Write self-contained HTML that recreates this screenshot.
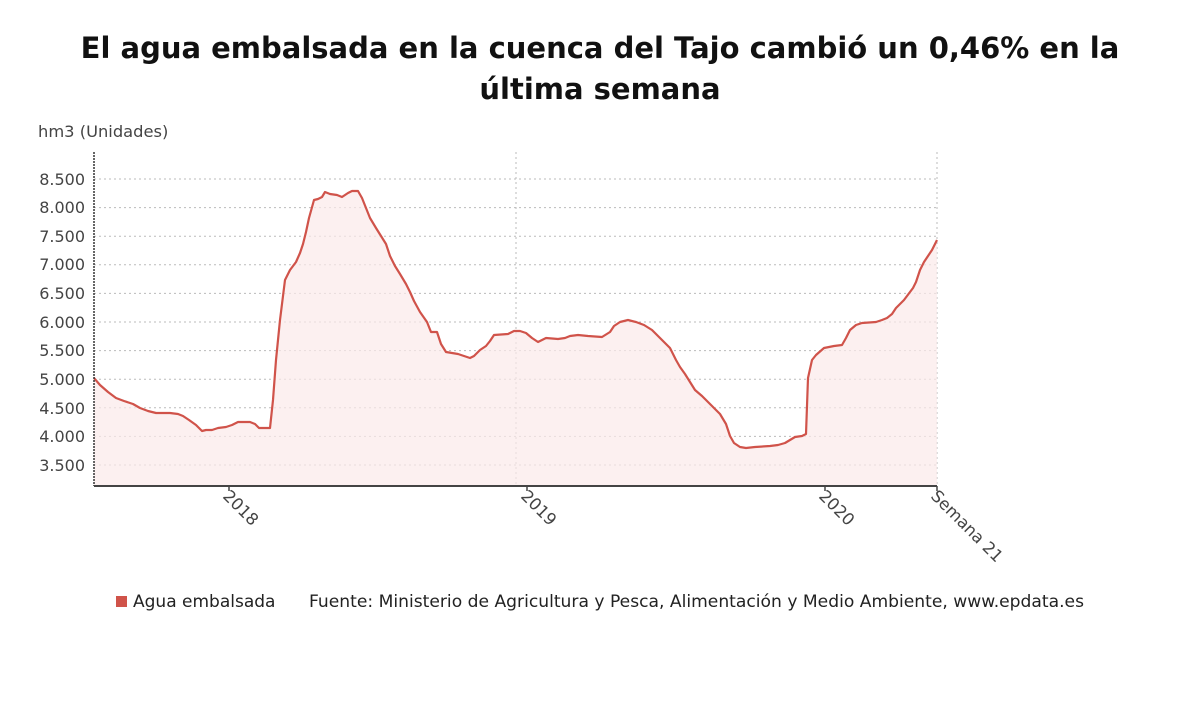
<!DOCTYPE html>
<html><head><meta charset="utf-8"><style>
body{margin:0;background:#fff;width:1200px;height:704px;overflow:hidden;font-family:"Liberation Sans","DejaVu Sans",sans-serif;}
</style></head><body>
<svg width="1200" height="704" xmlns="http://www.w3.org/2000/svg" font-family="'DejaVu Sans','Liberation Sans',sans-serif">
<text x="600" y="58" text-anchor="middle" font-size="29" font-weight="bold" fill="#111">El agua embalsada en la cuenca del Tajo cambió un 0,46% en la</text>
<text x="600" y="99" text-anchor="middle" font-size="29" font-weight="bold" fill="#111">última semana</text>
<text x="38" y="137" font-size="16.3" fill="#444">hm3 (Unidades)</text>
<g stroke="#bbb" stroke-dasharray="2,3" stroke-width="1">
<line x1="94" x2="937" y1="179" y2="179"/><line x1="94" x2="937" y1="207.6" y2="207.6"/><line x1="94" x2="937" y1="236.2" y2="236.2"/><line x1="94" x2="937" y1="264.8" y2="264.8"/><line x1="94" x2="937" y1="293.4" y2="293.4"/><line x1="94" x2="937" y1="322" y2="322"/><line x1="94" x2="937" y1="350.6" y2="350.6"/><line x1="94" x2="937" y1="379.2" y2="379.2"/><line x1="94" x2="937" y1="407.8" y2="407.8"/><line x1="94" x2="937" y1="436.4" y2="436.4"/><line x1="94" x2="937" y1="465" y2="465"/>
<line x1="516" x2="516" y1="152" y2="486"/><line x1="937" x2="937" y1="152" y2="486"/>
</g>
<g font-size="16" fill="#444" text-anchor="end">
<text x="85" y="185">8.500</text><text x="85" y="213">8.000</text><text x="85" y="242">7.500</text><text x="85" y="270">7.000</text><text x="85" y="299">6.500</text><text x="85" y="328">6.000</text><text x="85" y="356">5.500</text><text x="85" y="385">5.000</text><text x="85" y="414">4.500</text><text x="85" y="442">4.000</text><text x="85" y="471">3.500</text>
</g>
<polygon fill="#fbeaea" opacity="0.7" points="94,486 94,378 100,385 108,392 116,398 124,401 133,404 140,408 148,411 156,413 170,413 178,414 183,416 189,420 196,425 202,431 206,430 212,430 218,428 226,427 232,425 238,422 250,422 255,424 259,428 270,428 273,400 276,360 280,320 285,280 290,270 296,262 300,253 303,244 306,232 309,218 314,200 318,199 322,197 325,192 330,194 337,195 342,197 348,193 352,191 358,191 362,198 366,208 370,218 376,228 381,236 386,244 390,256 395,266 400,274 406,284 410,292 414,301 420,312 427,322 431,332 437,332 441,344 446,352 458,354 464,356 470,358 474,356 480,350 486,346 490,341 494,335 508,334 514,331 520,331 526,333 532,338 538,342 546,338 558,339 565,338 570,336 578,335 588,336 602,337 610,332 614,326 620,322 628,320 636,322 644,325 652,330 658,336 664,342 670,348 676,360 680,367 685,374 690,382 695,390 702,396 708,402 714,408 720,414 726,424 730,436 734,443 740,447 746,448 755,447 770,446 778,445 785,443 790,440 795,437 802,436 806,434 808,378 812,360 816,355 824,348 834,346 842,345 846,338 850,330 856,325 862,323 876,322 882,320 887,318 892,314 896,308 900,304 904,300 910,292 913,288 916,282 920,270 924,262 928,256 932,250 937,240 937,486"/>
<polyline fill="none" stroke="#d0534a" stroke-width="2.2" stroke-linejoin="round" points="94,378 100,385 108,392 116,398 124,401 133,404 140,408 148,411 156,413 170,413 178,414 183,416 189,420 196,425 202,431 206,430 212,430 218,428 226,427 232,425 238,422 250,422 255,424 259,428 270,428 273,400 276,360 280,320 285,280 290,270 296,262 300,253 303,244 306,232 309,218 314,200 318,199 322,197 325,192 330,194 337,195 342,197 348,193 352,191 358,191 362,198 366,208 370,218 376,228 381,236 386,244 390,256 395,266 400,274 406,284 410,292 414,301 420,312 427,322 431,332 437,332 441,344 446,352 458,354 464,356 470,358 474,356 480,350 486,346 490,341 494,335 508,334 514,331 520,331 526,333 532,338 538,342 546,338 558,339 565,338 570,336 578,335 588,336 602,337 610,332 614,326 620,322 628,320 636,322 644,325 652,330 658,336 664,342 670,348 676,360 680,367 685,374 690,382 695,390 702,396 708,402 714,408 720,414 726,424 730,436 734,443 740,447 746,448 755,447 770,446 778,445 785,443 790,440 795,437 802,436 806,434 808,378 812,360 816,355 824,348 834,346 842,345 846,338 850,330 856,325 862,323 876,322 882,320 887,318 892,314 896,308 900,304 904,300 910,292 913,288 916,282 920,270 924,262 928,256 932,250 937,240"/>
<line x1="94" x2="94" y1="152" y2="486" stroke="#333" stroke-width="1.5" stroke-dasharray="2,1"/>
<line x1="94" x2="937" y1="486" y2="486" stroke="#444" stroke-width="2"/>
<g stroke="#444" stroke-width="1.5"><line x1="229" x2="229" y1="486" y2="491"/><line x1="527" x2="527" y1="486" y2="491"/><line x1="825" x2="825" y1="486" y2="491"/><line x1="937" x2="937" y1="486" y2="491"/></g>
<g font-size="16.5" fill="#444">
<text transform="translate(222,497) rotate(45)">2018</text>
<text transform="translate(520,497) rotate(45)">2019</text>
<text transform="translate(818,497) rotate(45)">2020</text>
<text transform="translate(930,497) rotate(45)">Semana 21</text>
</g>
<rect x="116" y="596" width="11" height="11" fill="#d0534a"/>
<text x="133" y="607" font-size="17" fill="#222">Agua embalsada</text>
<text x="309" y="607" font-size="17" fill="#222" textLength="775" lengthAdjust="spacingAndGlyphs">Fuente: Ministerio de Agricultura y Pesca, Alimentación y Medio Ambiente, www.epdata.es</text>
</svg>
</body></html>
